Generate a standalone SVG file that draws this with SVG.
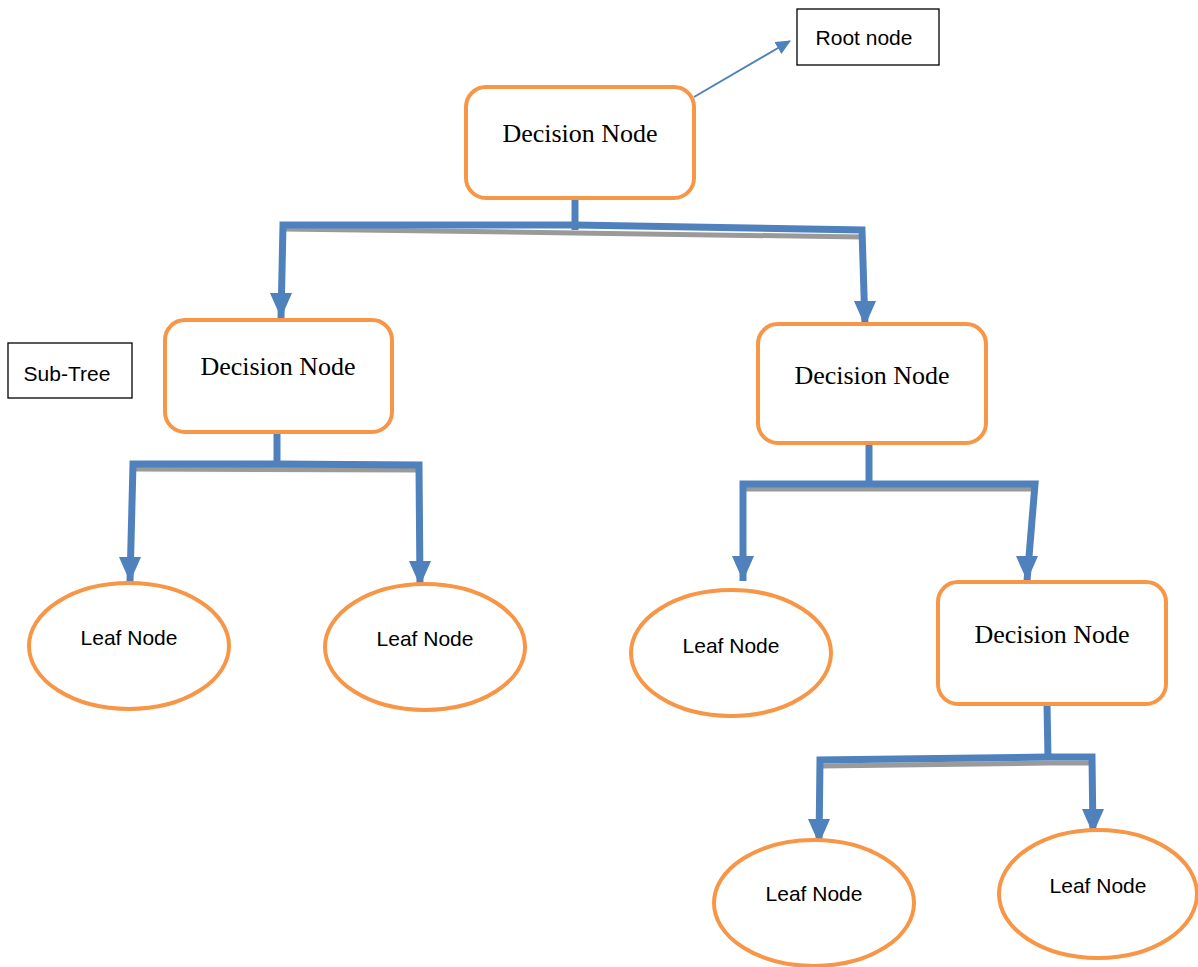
<svg xmlns="http://www.w3.org/2000/svg" width="1198" height="967" viewBox="0 0 1198 967">
<style>
.dn{fill:#fff;stroke:#F79646;stroke-width:4}
.lf{fill:#fff;stroke:#F79646;stroke-width:4}
.lb{fill:#fff;stroke:#000;stroke-width:1.3}
.ts{font-family:"Liberation Serif",serif;font-size:26px;fill:#000;text-anchor:middle}
.tl{font-family:"Liberation Sans",sans-serif;font-size:21px;fill:#000;text-anchor:middle}
.c{fill:none;stroke:#4F81BD;stroke-width:7;stroke-linejoin:miter}
.sh{fill:none;stroke:#9a9a9a;stroke-width:5}
</style>
<defs>
<marker id="ad" markerUnits="userSpaceOnUse" markerWidth="22" markerHeight="28" refX="11" refY="27" orient="0" viewBox="0 0 22 28">
<path d="M0,2 L22,2 L11,27 Z" fill="#4F81BD"/>
</marker>
<marker id="as" markerUnits="userSpaceOnUse" markerWidth="16" markerHeight="16" refX="14" refY="8" orient="auto" viewBox="0 0 16 16">
<path d="M0,1 L15,8 L0,15 Z" fill="#4F81BD"/>
</marker>
</defs>
<rect width="1198" height="967" fill="#fff"/>
<g id="connectors">
<path class="sh" d="M283,229 L575,233 L862,237"/>
<path class="sh" d="M136,469 L419,470"/>
<path class="sh" d="M746,489 L1035,489"/>
<path class="sh" d="M822,766 L1049,763 L1091,763"/>
<path class="c" d="M575,198 L575,230"/>
<path class="c" d="M281,318 L283,225 L575,225 L862,230 L865,326" marker-start="url(#ad)" marker-end="url(#ad)"/>
<path class="c" d="M277,432 L277,465"/>
<path class="c" d="M130,582 L133,464 L277,464 L419,465 L420,586" marker-start="url(#ad)" marker-end="url(#ad)"/>
<path class="c" d="M869,443 L869,485"/>
<path class="c" d="M743,581 L743,484 L869,484 L1035,484 L1027,581" marker-start="url(#ad)" marker-end="url(#ad)"/>
<path class="c" d="M1047,704 L1048,758"/>
<path class="c" d="M819,844 L820,760 L1048,757 L1092,757 L1093,834" marker-start="url(#ad)" marker-end="url(#ad)"/>
<path d="M694,97 L790,41" fill="none" stroke="#4F81BD" stroke-width="2" marker-end="url(#as)"/>
</g>
<g id="root-label">
<rect class="lb" x="797" y="9" width="142" height="56"/>
<text class="tl" x="864" y="45">Root node</text>
</g>
<g id="subtree-label">
<rect class="lb" x="8" y="343" width="124" height="55"/>
<text class="tl" x="67" y="381">Sub-Tree</text>
</g>
<g id="decision-root">
<rect class="dn" x="466" y="87" width="228" height="111" rx="20"/>
<text class="ts" x="580" y="142">Decision Node</text>
</g>
<g id="decision-left">
<rect class="dn" x="165" y="320" width="227" height="112" rx="20"/>
<text class="ts" x="278" y="375">Decision Node</text>
</g>
<g id="decision-right">
<rect class="dn" x="758" y="324" width="228" height="119" rx="20"/>
<text class="ts" x="872" y="384">Decision Node</text>
</g>
<g id="decision-bottom">
<rect class="dn" x="938" y="582" width="228" height="122" rx="20"/>
<text class="ts" x="1052" y="643">Decision Node</text>
</g>
<g id="leaf-1">
<ellipse class="lf" cx="129" cy="646" rx="100" ry="63"/>
<text class="tl" x="129" y="645">Leaf Node</text>
</g>
<g id="leaf-2">
<ellipse class="lf" cx="425" cy="647" rx="100" ry="63"/>
<text class="tl" x="425" y="646">Leaf Node</text>
</g>
<g id="leaf-3">
<ellipse class="lf" cx="731" cy="653" rx="100" ry="63"/>
<text class="tl" x="731" y="653">Leaf Node</text>
</g>
<g id="leaf-4">
<ellipse class="lf" cx="814" cy="903" rx="100" ry="63"/>
<text class="tl" x="814" y="901">Leaf Node</text>
</g>
<g id="leaf-5">
<ellipse class="lf" cx="1098" cy="894" rx="99" ry="64"/>
<text class="tl" x="1098" y="893">Leaf Node</text>
</g>
</svg>
